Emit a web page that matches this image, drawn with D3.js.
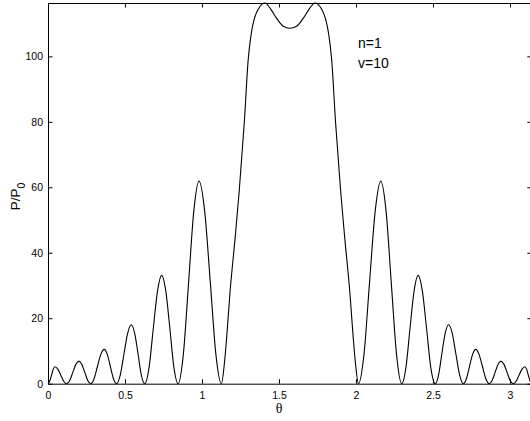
<!DOCTYPE html>
<html>
<head>
<meta charset="utf-8">
<script src="https://cdn.jsdelivr.net/npm/d3@7"></script>
<style>
  html, body { margin: 0; padding: 0; background: #fff; }
  svg { display: block; }
</style>
</head>
<body>
<svg id="chart" width="530" height="421"></svg>
<script>
// ---- data ----
const theta = [
  0.000, 0.011, 0.023, 0.034, 0.045, 0.064, 0.083, 0.102, 0.121,
  0.141, 0.161, 0.181, 0.201, 0.220, 0.239, 0.258, 0.277,
  0.299, 0.321, 0.343, 0.365, 0.385, 0.405, 0.425, 0.445,
  0.469, 0.493, 0.517, 0.541, 0.563, 0.585, 0.606, 0.628,
  0.656, 0.683, 0.711, 0.738, 0.765, 0.792, 0.818, 0.845,
  0.879, 0.913, 0.947, 0.981, 1.017, 1.054, 1.090, 1.126,
  1.145, 1.160, 1.182, 1.214, 1.242, 1.275, 1.300, 1.320, 1.340, 1.366, 1.388, 1.409,
  1.445, 1.485, 1.525, 1.5708, 1.617, 1.657, 1.697,
  1.733, 1.754, 1.776, 1.802, 1.822, 1.842, 1.867, 1.900, 1.928, 1.960, 1.982, 1.997, 2.016,
  2.052, 2.088, 2.125, 2.161, 2.195, 2.229, 2.263, 2.297,
  2.324, 2.350, 2.377, 2.404, 2.431, 2.459, 2.486, 2.514,
  2.536, 2.557, 2.579, 2.601, 2.625, 2.649, 2.673, 2.697,
  2.717, 2.737, 2.757, 2.777, 2.799, 2.821, 2.843, 2.865,
  2.884, 2.903, 2.922, 2.941, 2.961, 2.981, 3.001, 3.021,
  3.040, 3.059, 3.078, 3.097, 3.108, 3.119, 3.131, 3.1416
];
const power = [
  0.0, 0.76, 2.6, 4.44, 5.2, 4.44, 2.6, 0.76, 0.0,
  1.0, 3.45, 5.9, 6.9, 5.9, 3.45, 1.0, 0.0,
  1.53, 5.25, 8.97, 10.5, 8.97, 5.25, 1.53, 0.0,
  2.63, 9.0, 15.37, 18.0, 15.37, 9.0, 2.63, 0.0,
  4.83, 16.55, 28.27, 33.1, 28.27, 16.55, 4.83, 0.0,
  9.04, 30.95, 52.86, 61.9, 52.86, 30.95, 9.04, 0.0,
  6.0, 14.0, 28.0, 44.0, 59.0, 80.0, 99.0, 107.0, 111.5, 114.5, 115.9, 116.3,
  114.5, 111.6, 109.3, 108.6, 109.3, 111.6, 114.5,
  116.3, 115.9, 114.5, 111.5, 107.0, 99.0, 80.0, 59.0, 44.0, 28.0, 14.0, 6.0, 0.0,
  9.04, 30.95, 52.86, 61.9, 52.86, 30.95, 9.04, 0.0,
  4.83, 16.55, 28.27, 33.1, 28.27, 16.55, 4.83, 0.0,
  2.63, 9.0, 15.37, 18.0, 15.37, 9.0, 2.63, 0.0,
  1.53, 5.25, 8.97, 10.5, 8.97, 5.25, 1.53, 0.0,
  1.0, 3.45, 5.9, 6.9, 5.9, 3.45, 1.0, 0.0,
  0.76, 2.6, 4.44, 5.2, 4.44, 2.6, 0.76, 0.0
];
const xTicks = [0, 0.5, 1, 1.5, 2, 2.5, 3];
const yTicks = [0, 20, 40, 60, 80, 100];
const xDomain = [0, Math.PI];
const yMax = 116.3;
const annotation = ["n=1", "v=10"];

// ---- layout ----
const mLeft = 48, mRight = 531.8, mTop = 3, mBottom = 383.7;
const svg = d3.select("#chart");

const x = d3.scaleLinear().domain(xDomain).range([mLeft, mRight]);
const y = d3.scaleLinear().domain([0, yMax]).range([mBottom, mTop]);

const fontTick = "Liberation Sans, Arial, Helvetica, sans-serif";
const tickLen = 4.5;

// curve
const pts = theta.map((t, i) => [t, power[i]]);
const line = d3.line()
  .x(d => x(d[0]))
  .y(d => y(d[1]))
  .curve(d3.curveMonotoneX);

svg.append("path")
  .datum(pts)
  .attr("fill", "none")
  .attr("stroke", "#000")
  .attr("stroke-width", 1.1)
  .attr("d", line);

// axes (box with inward ticks)
const gB = svg.append("g").attr("transform", `translate(0,${mBottom})`)
  .call(d3.axisBottom(x).tickValues(xTicks).tickFormat(d3.format("")).tickSizeInner(-tickLen).tickSizeOuter(0).tickPadding(8));
const gT = svg.append("g").attr("transform", `translate(0,${mTop})`)
  .call(d3.axisTop(x).tickValues(xTicks).tickFormat("").tickSizeInner(-tickLen).tickSizeOuter(0));
const gL = svg.append("g").attr("transform", `translate(${mLeft},0)`)
  .call(d3.axisLeft(y).tickValues(yTicks).tickFormat(d3.format("")).tickSizeInner(-tickLen).tickSizeOuter(0).tickPadding(5));
const gR = svg.append("g").attr("transform", `translate(${mRight},0)`)
  .call(d3.axisRight(y).tickValues(yTicks).tickFormat("").tickSizeInner(-tickLen).tickSizeOuter(0));

[gB, gT, gL, gR].forEach(g => {
  g.selectAll(".domain").attr("stroke", "#000").attr("stroke-width", 1);
  g.selectAll(".tick line").attr("stroke", "#000");
  g.selectAll("text").attr("fill", "#000")
    .style("font-family", fontTick).style("font-size", "10.5px");
});

// axis labels
svg.append("text")
  .attr("x", x(1.5)).attr("y", 413)
  .attr("text-anchor", "middle")
  .style("font-family", "Liberation Serif, Times New Roman, serif")
  .style("font-size", "14px")
  .text("θ");

const yl = svg.append("text")
  .attr("transform", `translate(20,${(mTop + mBottom) / 2 + 3}) rotate(-90)`)
  .attr("text-anchor", "middle")
  .style("font-family", fontTick)
  .style("font-size", "13.5px");
yl.append("tspan").text("P/P");
yl.append("tspan").attr("dy", 5).style("font-size", "10.5px").text("0");

// annotation
svg.append("g").selectAll("text").data(annotation).join("text")
  .attr("x", 358)
  .attr("y", (d, i) => 47.7 + i * 20)
  .style("font-family", fontTick)
  .style("font-size", "14px")
  .text(d => d);
</script>
</body>
</html>
